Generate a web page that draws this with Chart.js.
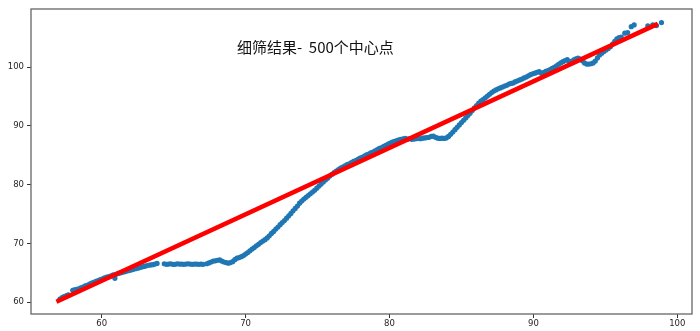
<!DOCTYPE html>
<html>
<head>
<meta charset="utf-8">
<script src="https://cdn.jsdelivr.net/npm/chart.js@4.4.1/dist/chart.umd.min.js"></script>
<style>
  body { margin: 0; background: #fff; }
  canvas { display: block; }
</style>
</head>
<body>
<canvas id="fit-chart" width="700" height="331"></canvas>
<script>
// centre points after the fine pass
const pointX = [
  57.10, 57.25, 57.38, 57.55, 57.68, 57.99, 58.10, 58.25, 58.40, 58.55, 58.70, 58.85,
  59.00, 59.15, 59.30, 59.45, 59.60, 59.75, 59.90, 60.05, 60.20, 60.35, 60.50, 60.65,
  60.80, 60.92, 61.00, 61.15, 61.30, 61.45, 61.60, 61.75, 61.90, 62.05, 62.20, 62.35,
  62.50, 62.65, 62.80, 62.95, 63.10, 63.25, 63.40, 63.55, 63.70, 63.85,
  64.35, 64.50, 64.65, 64.80, 64.95, 65.10, 65.25, 65.40, 65.55, 65.70, 65.85, 66.00,
  66.15, 66.30, 66.45, 66.60, 66.75, 66.90, 67.05,
  67.30, 67.45, 67.60, 67.75, 67.90, 68.05, 68.20, 68.35, 68.50, 68.65, 68.80, 68.95,
  69.10, 69.25, 69.40, 69.55, 69.70, 69.85, 70.00, 70.15, 70.30, 70.45, 70.60, 70.75,
  70.90, 71.05, 71.20, 71.35, 71.50, 71.65, 71.80, 71.95, 72.10, 72.25, 72.40, 72.55,
  72.70, 72.85, 73.00, 73.15, 73.30, 73.45, 73.60, 73.75, 73.90, 74.05, 74.20, 74.35,
  74.50, 74.65, 74.80, 74.95, 75.10, 75.25, 75.40, 75.55, 75.70, 75.85, 76.00, 76.15,
  76.30, 76.45, 76.60, 76.75, 76.90, 77.05, 77.20, 77.35, 77.50, 77.65, 77.80, 77.95,
  78.10, 78.25, 78.40, 78.55, 78.70, 78.85, 79.00, 79.15, 79.30, 79.45, 79.60, 79.75,
  79.90, 80.05, 80.20, 80.35, 80.50, 80.65, 80.80, 80.95, 81.10, 81.25, 81.40, 81.55,
  81.70, 81.85, 82.00, 82.15, 82.30, 82.45, 82.60, 82.75, 82.90, 83.05, 83.20, 83.35,
  83.50, 83.65, 83.80, 83.95, 84.10, 84.25, 84.40, 84.55, 84.70, 84.85, 85.00, 85.15,
  85.30, 85.45, 85.60, 85.75, 85.90, 86.05, 86.20, 86.35, 86.50, 86.65, 86.80, 86.95,
  87.10, 87.25, 87.40, 87.55, 87.70, 87.85, 88.00, 88.15, 88.30, 88.45, 88.60, 88.75,
  88.90, 89.05, 89.20, 89.35, 89.50, 89.65, 89.80, 89.95, 90.10, 90.25, 90.40, 90.55,
  90.70, 90.85, 91.00, 91.15, 91.30, 91.45, 91.60, 91.75, 91.90, 92.05, 92.20, 92.35,
  92.50, 92.65, 92.80, 92.95, 93.10, 93.25, 93.40, 93.55, 93.70, 93.85, 94.00, 94.15,
  94.30, 94.45, 94.60, 94.75, 94.90, 95.05, 95.20, 95.35, 95.50, 95.65, 95.80, 95.95,
  96.10, 96.35, 96.55, 96.80, 97.00, 97.95, 98.30, 98.55, 98.90
];
const pointY = [
  60.55, 60.80, 60.95, 61.15, 61.25, 62.05, 62.10, 62.20, 62.30, 62.45, 62.60, 62.80,
  62.90, 63.10, 63.25, 63.40, 63.55, 63.70, 63.85, 64.00, 64.15, 64.30, 64.35, 64.50,
  64.65, 64.08, 64.75, 64.90, 65.00, 65.10, 65.20, 65.30, 65.40, 65.50, 65.60, 65.70,
  65.80, 65.90, 66.00, 66.10, 66.20, 66.30, 66.35, 66.40, 66.50, 66.60,
  66.55, 66.45, 66.50, 66.55, 66.45, 66.45, 66.55, 66.50, 66.50, 66.45, 66.50, 66.55,
  66.50, 66.45, 66.50, 66.50, 66.45, 66.50, 66.45,
  66.55, 66.70, 66.85, 67.00, 67.05, 67.15, 67.20, 67.00, 66.85, 66.75, 66.65, 66.75,
  66.90, 67.25, 67.50, 67.60, 67.75, 67.95, 68.20, 68.45, 68.75, 69.05, 69.30, 69.60,
  69.85, 70.15, 70.40, 70.65, 70.95, 71.30, 71.70, 72.05, 72.45, 72.80, 73.20, 73.55,
  73.90, 74.30, 74.70, 75.10, 75.55, 75.95, 76.35, 76.85, 77.20, 77.55, 77.85, 78.15,
  78.45, 78.75, 79.05, 79.40, 79.75, 80.10, 80.45, 80.80, 81.10, 81.45, 81.75, 82.05,
  82.30, 82.55, 82.80, 83.00, 83.20, 83.40, 83.55, 83.75, 83.95, 84.10, 84.30, 84.50,
  84.65, 84.85, 85.05, 85.20, 85.40, 85.55, 85.75, 85.95, 86.15, 86.30, 86.50, 86.70,
  86.90, 87.05, 87.25, 87.35, 87.50, 87.60, 87.70, 87.80, 87.85, 87.75, 87.80, 87.70,
  87.75, 87.80, 87.85, 87.80, 87.90, 87.95, 88.00, 88.05, 88.20, 88.25, 88.05, 87.90,
  87.85, 87.90, 87.85, 87.95, 88.20, 88.55, 88.95, 89.35, 89.75, 90.15, 90.55, 90.95,
  91.35, 91.75, 92.15, 92.60, 93.05, 93.45, 93.85, 94.20, 94.45, 94.75, 95.05, 95.35,
  95.65, 95.90, 96.10, 96.30, 96.45, 96.60, 96.75, 96.90, 97.10, 97.20, 97.30, 97.50,
  97.65, 97.80, 97.95, 98.15, 98.30, 98.50, 98.70, 98.85, 98.95, 99.10, 99.20, 98.95,
  99.05, 99.25, 99.40, 99.55, 99.75, 99.95, 100.20, 100.45, 100.70, 100.90, 101.10, 101.25,
  100.95, 100.90, 101.20, 101.40, 101.50, 101.35, 101.05, 100.70, 100.50, 100.50, 100.55, 100.70,
  101.00, 101.55, 102.05, 102.35, 102.65, 102.90, 103.15, 103.45, 103.90, 104.35, 104.80, 105.00,
  105.10, 105.75, 105.85, 106.85, 107.15, 107.00, 107.15, 107.05, 107.55
];

// fitted line end points
const fitX = [57.0, 98.5];
const fitY = [60.26, 107.17];

const xTicks = [60, 70, 80, 90, 100];
const yTicks = [60, 70, 80, 90, 100];

const titleText = '细筛结果-  500个中心点';
const titleAt = { x: 69.4, y: 102.45 };

const points = pointX.map((x, i) => ({ x, y: pointY[i] }));
const fitLine = fitX.map((x, i) => ({ x, y: fitY[i] }));

// box around the plot plus the caption placed in data coordinates
const frameAndTitle = {
  id: 'frameAndTitle',
  afterDatasetsDraw(chart) {
    const { ctx, chartArea: a, scales } = chart;
    ctx.save();
    ctx.strokeStyle = '#666';
    ctx.lineWidth = 1.3;
    ctx.strokeRect(a.left, a.top, a.right - a.left, a.bottom - a.top);
    ctx.fillStyle = '#111';
    ctx.font = '15px "Noto Sans CJK SC"';
    ctx.textBaseline = 'alphabetic';
    ctx.textAlign = 'left';
    ctx.fillText(titleText, scales.x.getPixelForValue(titleAt.x), scales.y.getPixelForValue(titleAt.y));
    ctx.restore();
  }
};

const tickFont = { family: 'DejaVu Sans', size: 8.5 };

new Chart(document.getElementById('fit-chart'), {
  type: 'scatter',
  data: {
    datasets: [
      {
        type: 'line',
        data: fitLine,
        borderColor: '#ff0000',
        borderWidth: 4.5,
        borderCapStyle: 'square',
        pointRadius: 0,
        fill: false,
        order: 0
      },
      {
        data: points,
        backgroundColor: '#1f77b4',
        pointBackgroundColor: '#1f77b4',
        pointRadius: 2.6,
        pointBorderWidth: 0,
        order: 1
      }
    ]
  },
  options: {
    responsive: false,
    animation: false,
    events: [],
    layout: { padding: { left: 0, top: 9, right: 8, bottom: 0 } },
    plugins: {
      legend: { display: false },
      tooltip: { enabled: false }
    },
    scales: {
      x: {
        type: 'linear',
        min: 55.09,
        max: 101.02,
        afterBuildTicks: s => { s.ticks = xTicks.map(v => ({ value: v })); },
        afterFit: s => { s.height = 17; },
        border: { display: false },
        grid: { drawOnChartArea: false, drawTicks: true, tickLength: 4, tickColor: '#333' },
        ticks: { color: '#262626', font: tickFont, padding: 1, maxRotation: 0, autoSkip: false }
      },
      y: {
        type: 'linear',
        min: 58.01,
        max: 109.86,
        afterBuildTicks: s => { s.ticks = yTicks.map(v => ({ value: v })); },
        afterFit: s => { s.width = 31; },
        border: { display: false },
        grid: { drawOnChartArea: false, drawTicks: true, tickLength: 4, tickColor: '#333' },
        ticks: { color: '#262626', font: tickFont, padding: 3, autoSkip: false }
      }
    }
  },
  plugins: [frameAndTitle]
});
</script>
</body>
</html>
